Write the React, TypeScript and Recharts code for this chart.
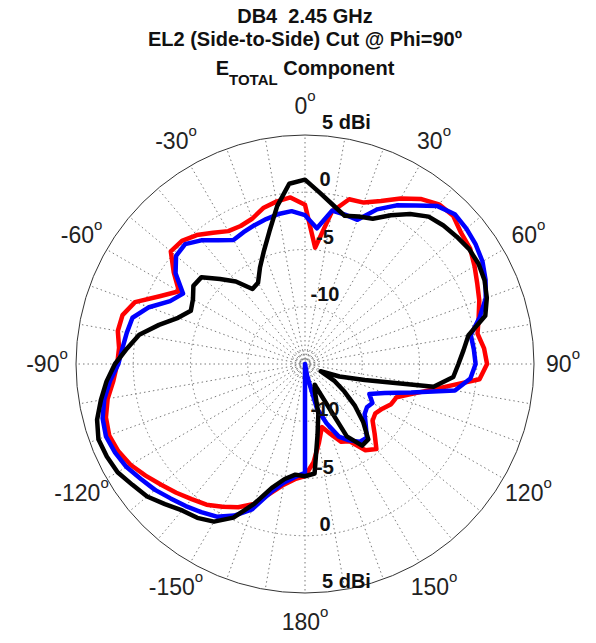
import { RadarChart, Radar, PolarGrid, PolarAngleAxis, PolarRadiusAxis } from 'recharts';

// angle in degrees, 0 at top, clockwise
const ANGLES = [
  0, 5, 10, 15, 20, 25, 30, 35, 40, 45, 50, 55, 60, 65, 70, 75, 80, 85,
  90, 95, 100, 105, 110, 115, 120, 125, 130, 135, 140, 145, 150, 155, 160, 165, 170, 175,
  180, 185, 190, 195, 200, 205, 210, 215, 220, 225, 230, 235, 240, 245, 250, 255, 260, 265,
  270, 275, 280, 285, 290, 295, 300, 305, 310, 315, 320, 325, 330, 335, 340, 345, 350, 355,
];

// gain in dBi
const RED = [
  -1.1, -4.8, -1.5, -0.1, 0.0, 0.7, 1.7, 2.6, 3.2, 3.3, 2.8, 2.6, 2.1, 1.6, 1.2, 0.7, 0.3, 0.7,
  0.9, 0.3, -3.0, -5.1, -6.5, -6.7, -7.2, -7.5, -7.3, -6.4, -5.3, -5.8, -7.2, -7.5, -8.5, -9.3, -8.0, -6.4,
  -5.2, -4.9, -4.3, -3.3, -2.0, -1.2, -0.6, 0.0, 0.4, 0.9, 1.4, 2.0, 2.6, 3.0, 3.2, 3.0, 2.5, 1.8,
  1.4, 1.3, 1.6, 1.5, 0.8, -1.0, -2.3, -1.0, 0.3, 0.2, -0.3, -1.0, -1.6, -1.7, -1.5, -0.9, -0.6, -0.4,
];
const BLUE = [
  -2.0, -3.1, -1.4, -1.5, -1.6, -0.1, 1.0, 1.9, 3.0, 3.5, 3.4, 3.2, 2.9, 2.4, 1.8, 0.8, -0.3, -0.2,
  -0.1, -0.5, -1.7, -5.4, -7.6, -8.8, -8.2, -8.4, -8.2, -7.5, -6.6, -6.7, -7.3, -8.0, -9.5, -11.0, -14.0, -15.0,
  -5.5, -5.1, -4.5, -3.4, -1.5, -0.4, 0.4, 0.8, 1.2, 1.6, 2.1, 2.5, 3.0, 3.3, 3.5, 3.3, 2.8, 2.1,
  1.3, 1.0, 0.8, 0.6, -0.5, -2.0, -2.7, -1.2, -0.3, -0.2, -0.9, -1.8, -2.5, -2.3, -2.1, -1.9, -1.7, -1.6,
];
const BLACK = [
  1.1, 0.0, -0.9, -1.6, -1.3, -1.0, 0.0, 1.0, 1.8, 2.1, 2.3, 2.5, 2.5, 2.3, 1.9, 1.3, -0.5, -1.1,
  -1.6, -2.0, -3.6, -9.6, -11.8, -13.5, -12.0, -10.8, -9.3, -7.8, -6.4, -6.3, -7.7, -13.0, -12.5, -10.5, -8.7, -5.4,
  -5.2, -5.3, -4.8, -3.8, -2.0, -0.2, 0.9, 1.4, 1.7, 2.3, 3.0, 3.4, 3.9, 4.1, 4.2, 3.8, 3.1, 2.4,
  1.6, 0.6, -0.3, -1.8, -3.2, -4.0, -3.7, -3.1, -3.2, -4.5, -5.6, -7.0, -6.8, -5.7, -4.5, -3.0, -1.0, 0.8,
];

const R_DOMAIN: [number, number] = [-15, 5];
const RING_VALUES = [-10, -5, 0];

const W = 596;
const H = 643;
const CX = 305;
const CY = 364;
const OUTER = 229;
const FONT = '"Liberation Sans", Arial, Helvetica, sans-serif';

const data = ANGLES.map((angle, i) => ({ angle, red: RED[i], blue: BLUE[i], black: BLACK[i] }));

const rOf = (v: number) => ((v - R_DOMAIN[0]) / (R_DOMAIN[1] - R_DOMAIN[0])) * OUTER;
const gridAngles = ANGLES.filter((a) => a % 10 === 0).map((a) => 90 - a);
const gridRadii = [3, 6, 9, 13, ...RING_VALUES.map(rOf)];

function AngleTick(props: any) {
  const { x, y, payload } = props;
  const a = payload.value as number;
  if (a % 30 !== 0) return <g />;
  const label = a > 180 ? a - 360 : a;
  return (
    <text x={x} y={y} textAnchor="middle" dominantBaseline="central" fontFamily={FONT} fontSize={23} fill="#222">
      {label}
      <tspan dy={-11} fontSize={15}>o</tspan>
    </text>
  );
}

function RadiusTick(props: any) {
  const { y, payload } = props;
  const v = payload.value as number;
  if (v <= R_DOMAIN[0]) return <g />;
  const isMax = v === R_DOMAIN[1];
  const label = isMax ? `${v} dBi` : String(v);
  const x = isMax ? CX + 17 : CX + 20;
  const anchor = isMax ? 'start' : 'middle';
  const style = { fontFamily: FONT, fontSize: 20, fontWeight: 700, fill: '#111' };
  return (
    <g>
      <text x={x} y={y - 13} textAnchor={anchor} dominantBaseline="central" style={style}>{label}</text>
      <text x={x} y={2 * CY - y - 12} textAnchor={anchor} dominantBaseline="central" style={style}>{label}</text>
    </g>
  );
}

const lineProps = {
  strokeWidth: 4.5,
  strokeLinejoin: 'round' as const,
  fill: 'none',
  fillOpacity: 0,
  dot: false,
  isAnimationActive: false,
};

export default function App() {
  return (
    <div style={{ position: 'absolute', left: 0, top: 0, width: W, height: H, background: '#fff', fontFamily: FONT }}>
      <div style={{ position: 'absolute', left: 0, width: 2 * CX, top: 4, textAlign: 'center', fontWeight: 700, fontSize: 20, lineHeight: '24px', color: '#111' }}>
        DB4&nbsp;&nbsp;2.45 GHz
      </div>
      <div style={{ position: 'absolute', left: 0, width: 2 * CX, top: 27, textAlign: 'center', fontWeight: 700, fontSize: 20, lineHeight: '24px', color: '#111' }}>
        EL2 (Side-to-Side) Cut @ Phi=90º
      </div>
      <div style={{ position: 'absolute', left: 0, width: 2 * CX, top: 56, textAlign: 'center', fontWeight: 700, fontSize: 20, lineHeight: '24px', color: '#111' }}>
        E<span style={{ fontSize: 15, position: 'relative', top: 10 }}>TOTAL</span> Component
      </div>
      <div style={{ position: 'absolute', left: 0, top: 0 }}>
        <RadarChart width={W} height={H} data={data} cx={CX} cy={CY} outerRadius={OUTER} margin={{ top: 0, right: 0, bottom: 0, left: 0 }}>
          <PolarGrid
            gridType="circle"
            polarAngles={gridAngles}
            polarRadius={gridRadii}
            stroke="#7a7a7a"
            strokeDasharray="1.5 3"
          />
          <PolarAngleAxis
            dataKey="angle"
            startAngle={90}
            endAngle={-270}
            axisLineType="circle"
            axisLine={{ stroke: '#333', strokeWidth: 1 }}
            tickLine={false}
            tickSize={29}
            tick={<AngleTick />}
          />
          <PolarRadiusAxis
            angle={90}
            type="number"
            domain={R_DOMAIN}
            tickCount={5}
            axisLine={false}
            tickLine={false}
            tick={<RadiusTick />}
          />
          <Radar dataKey="red" stroke="#ff0000" {...lineProps} />
          <Radar dataKey="blue" stroke="#0000ff" {...lineProps} />
          <Radar dataKey="black" stroke="#000000" {...lineProps} />
        </RadarChart>
      </div>
    </div>
  );
}
